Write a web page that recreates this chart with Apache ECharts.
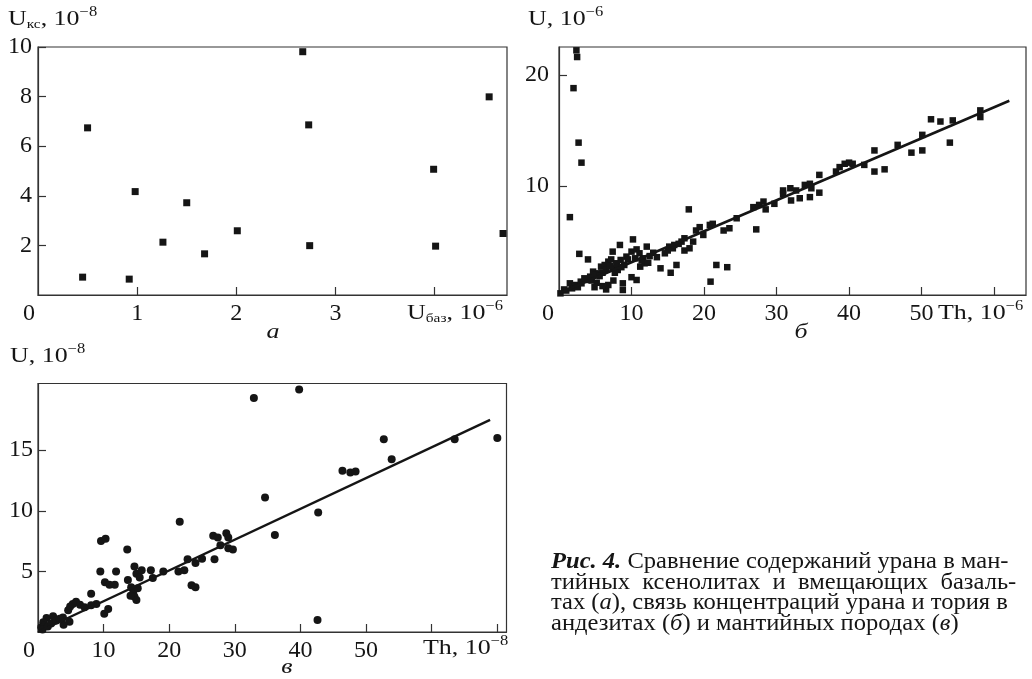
<!DOCTYPE html>
<html>
<head>
<meta charset="utf-8">
<script src="https://cdn.jsdelivr.net/npm/echarts@6/dist/echarts.min.js"></script>
<style>
  html, body { margin: 0; padding: 0; background: #fff; }
  #chart { width: 1032px; height: 679px; }
</style>
</head>
<body>
<div id="chart"></div>
<script>
// panel а: U in basalts (x, 10^-6) vs U in xenoliths (y, 10^-8)
const aUbaz = [0.45, 0.50, 0.92, 0.98, 1.26, 1.50, 1.68, 2.01, 2.67, 2.73, 2.74, 3.99, 4.01, 4.55, 4.69]
const aUks = [0.72, 6.74, 0.64, 4.17, 2.13, 3.72, 1.66, 2.59, 9.81, 6.86, 1.99, 5.07, 1.97, 7.99, 2.48]

// panel б: Th vs U in andesites, 10^-6
const bTh = [
  2.4, 2.5, 2.0, 2.7, 3.1, 1.5, 2.8, 4.0, 17.9, 10.2, 8.4, 20.9, 21.7, 23.2, 14.0, 15.4, 16.2, 8.8, 8.8, 10.0,
  10.7, 6.5, 4.9, 0.7, 0.2, 1.5, 2.2, 3.1, 3.8, 4.3, 4.7, 5.5, 5.8, 6.3, 6.8, 7.2, 7.4, 7.9, 8.1, 8.5,
  7.4, 9.3, 10.0, 10.7, 11.1, 11.2, 11.8, 12.1, 11.6, 14.6, 15.2, 15.7, 15.9, 16.9, 17.3, 17.3, 18.0, 18.5, 18.9, 19.4,
  19.9, 20.8, 21.2, 22.7, 23.5, 24.5, 26.8, 27.2, 27.6, 28.2, 28.5, 29.7, 30.9, 30.9, 31.9, 32.0, 32.7, 33.2, 33.9, 34.6,
  34.6, 34.8, 35.9, 35.9, 38.2, 38.7, 39.4, 40.0, 40.5, 42.1, 43.5, 43.5, 44.9, 46.7, 48.6, 50.1, 50.1, 51.3, 52.6, 53.9,
  54.3, 58.1, 58.1, 3.0, 4.5, 5.0, 6.0, 6.5, 7.0, 8.0, 9.0, 9.5, 10.5, 12.5, 13.0, 6.8, 7.5, 1.0, 1.8, 2.6,
  5.2, 6.0, 12.3, 15.0, 16.5, 3.5, 5.6, 7.7, 8.6, 11.4, 13.5
]
const bU = [
  22.2, 21.6, 18.8, 13.9, 12.1, 7.2, 3.9, 3.4, 7.9, 5.2, 4.7, 1.4, 2.9, 2.7, 2.6, 2.2, 2.9, 1.25, 0.65, 1.8,
  1.55, 0.7, 0.9, 0.7, 0.35, 1.25, 1.1, 1.25, 1.55, 1.85, 2.3, 2.15, 2.75, 2.9, 3.2, 3.4, 2.6, 3.05, 2.45, 3.35,
  4.1, 3.65, 4.1, 4.3, 3.95, 2.75, 3.05, 4.55, 3.5, 3.95, 4.55, 4.4, 4.7, 5.0, 5.3, 4.2, 4.4, 5.0, 6.0, 6.3,
  5.6, 6.5, 6.6, 6.0, 6.2, 7.1, 8.1, 6.1, 8.3, 8.6, 7.9, 8.4, 9.6, 9.3, 9.8, 8.7, 9.6, 8.9, 10.1, 10.2,
  9.0, 9.8, 11.0, 9.4, 11.3, 11.7, 12.0, 12.1, 12.0, 11.9, 13.2, 11.3, 11.5, 13.7, 13.0, 14.6, 13.2, 16.0, 15.8, 13.9,
  15.9, 16.8, 16.2, 1.4, 1.5, 2.0, 2.2, 2.5, 2.8, 3.0, 2.9, 3.4, 3.5, 3.7, 4.0, 1.1, 1.5, 0.6, 0.8, 0.9,
  1.3, 1.0, 3.1, 4.2, 4.8, 1.7, 1.9, 2.2, 2.7, 3.3, 3.6
]
const bFitTh = [0, 62.1]
const bFitU = [0.36, 17.67]

// panel в: Th vs U in mantle rocks, 10^-8
const vTh = [
  39.8, 32.9, 21.6, 9.6, 10.3, 13.6, 9.5, 11.9, 10.2, 10.9, 11.7, 13.7, 14.2, 14.5, 14.7, 15.0, 14.7, 15.0, 15.5, 15.8,
  15.2, 14.1, 17.2, 17.5, 19.1, 21.4, 22.3, 22.8, 23.4, 24.0, 24.0, 25.0, 26.7, 27.4, 26.9, 27.8, 28.7, 29.0, 29.0, 29.7,
  10.1, 10.7, 8.1, 8.9, 8.1, 6.4, 7.1, 4.9, 4.6, 3.8, 4.8, 3.9, 2.3, 1.3, 0.8, 0.5, 1.0, 0.7, 1.5, 2.0,
  2.8, 3.3, 34.6, 36.1, 42.7, 42.6, 46.4, 47.6, 48.4, 52.7, 53.9, 63.5, 70.0, 5.8, 5.3
]
const vU = [
  20.0, 19.3, 9.1, 7.5, 7.7, 6.8, 5.0, 5.0, 4.1, 3.9, 3.9, 4.3, 3.7, 3.2, 2.9, 2.65, 5.4, 4.8, 4.5, 5.1,
  3.6, 3.0, 5.1, 4.45, 5.0, 5.0, 5.1, 6.0, 3.85, 3.7, 5.7, 6.05, 7.95, 7.8, 6.0, 7.15, 8.15, 7.8, 6.9, 6.8,
  1.5, 1.9, 3.15, 2.3, 2.2, 2.25, 2.05, 2.1, 1.8, 1.2, 0.85, 0.6, 1.3, 1.15, 0.8, 0.4, 0.55, 0.2, 0.45, 0.7,
  0.95, 1.1, 11.1, 8.0, 9.85, 1.0, 13.3, 13.15, 13.25, 15.9, 14.25, 15.9, 16.0, 2.5, 2.3
]
const vFitTh = [0, 68.9]
const vFitU = [0, 17.5]

const pairs = (xs, ys) => xs.map((x, i) => [x, ys[i]])

const FONT = 'Liberation Serif'
const INK = '#151515'
const labelStyle = { fontFamily: FONT, fontSize: 24, color: INK }

function xAxisCfg(gridIndex, min, max, ticks, labels, zeroPad) {
  return {
    type: 'value', gridIndex: gridIndex, min: min, max: max,
    splitLine: { show: false },
    axisLine: { show: true, onZero: false, lineStyle: { color: '#333', width: 1.2 } },
    axisTick: { show: true, inside: true, length: 8, customValues: ticks, lineStyle: { color: '#333', width: 1.2 } },
    axisLabel: Object.assign({}, labelStyle, {
      margin: 7, customValues: labels,
      formatter: v => (v === 0 ? '{z|0}' : String(v)),
      rich: { z: { fontFamily: FONT, fontSize: 24, color: INK, padding: [0, zeroPad, 0, 0] } }
    })
  }
}

function yAxisCfg(gridIndex, min, max, ticks, margin) {
  return {
    type: 'value', gridIndex: gridIndex, min: min, max: max,
    splitLine: { show: false },
    axisLine: { show: true, onZero: false, lineStyle: { color: '#333', width: 1.2 } },
    axisTick: { show: true, inside: true, length: 8, customValues: ticks, lineStyle: { color: '#333', width: 1.2 } },
    axisLabel: Object.assign({}, labelStyle, { margin: margin, customValues: ticks })
  }
}

function richFor(size) {
  return {
    n: { fontFamily: FONT, fontSize: size, fill: INK },
    s: { fontFamily: FONT, fontSize: 13, fill: INK, padding: [12, 0, 0, 0] },
    p: { fontFamily: FONT, fontSize: 14, fill: INK, padding: [0, 0, 14, 0] },
    b: { fontFamily: FONT, fontSize: size, fill: INK, fontStyle: 'italic', fontWeight: 'bold' },
    i: { fontFamily: FONT, fontSize: size, fill: INK, fontStyle: 'italic' }
  }
}

// text block; stretched horizontally like the scanned page
function txt(x, y, text, align, sx, size) {
  const fs = size || 22
  return {
    type: 'text', x: x, y: y, scaleX: sx || 1.18,
    style: { text: text, rich: richFor(fs), fontFamily: FONT, fontSize: fs, fill: INK, textAlign: align || 'left', textVerticalAlign: 'middle' }
  }
}

const captionLines = [
  '{b|Рис. 4.} Сравнение содержаний урана в ман-',
  'тийных  ксенолитах  и  вмещающих  базаль-',
  'тах ({i|а}), связь концентраций урана и тория в',
  'андезитах ({i|б}) и мантийных породах ({i|в})'
]

const chart = echarts.init(document.getElementById('chart'), null, { renderer: 'canvas' })

const option = {
  animation: false,
  backgroundColor: '#fff',
  grid: [
    { left: 38, top: 47, width: 469, height: 248, show: true, borderColor: '#333', borderWidth: 1.2 },
    { left: 559, top: 47, width: 467, height: 248, show: true, borderColor: '#333', borderWidth: 1.2 },
    { left: 38, top: 383.5, width: 468.5, height: 248.5, show: true, borderColor: '#333', borderWidth: 1.2 }
  ],
  xAxis: [
    xAxisCfg(0, 0, 4.73, [1, 2, 3, 4], [0, 1, 2, 3], 18),
    xAxisCfg(1, 0, 64.4, [10, 20, 30, 40, 50, 60], [0, 10, 20, 30, 40, 50], 22),
    xAxisCfg(2, 0, 71.4, [10, 20, 30, 40, 50, 60, 70], [0, 10, 20, 30, 40, 50], 18)
  ],
  yAxis: [
    yAxisCfg(0, 0, 10, [2, 4, 6, 8, 10], 6),
    yAxisCfg(1, 0.2, 22.5, [10, 20], 10),
    yAxisCfg(2, 0, 20.5, [5, 10, 15], 5)
  ],
  series: [
    {
      type: 'scatter', xAxisIndex: 0, yAxisIndex: 0, symbol: 'rect', symbolSize: 7,
      itemStyle: { color: INK, opacity: 1 }, data: pairs(aUbaz, aUks)
    },
    {
      type: 'scatter', xAxisIndex: 1, yAxisIndex: 1, symbol: 'rect', symbolSize: 6.5,
      itemStyle: { color: INK, opacity: 1 }, data: pairs(bTh, bU)
    },
    {
      type: 'line', xAxisIndex: 1, yAxisIndex: 1, symbol: 'none',
      lineStyle: { color: INK, width: 2.6 }, data: pairs(bFitTh, bFitU)
    },
    {
      type: 'scatter', xAxisIndex: 2, yAxisIndex: 2, symbol: 'circle', symbolSize: 8,
      itemStyle: { color: INK, opacity: 1 }, data: pairs(vTh, vU)
    },
    {
      type: 'line', xAxisIndex: 2, yAxisIndex: 2, symbol: 'none',
      lineStyle: { color: INK, width: 2.4 }, data: pairs(vFitTh, vFitU)
    }
  ],
  graphic: [
    // axis names
    txt(8, 19, '{n|U}{s|кс}{n|, 10}{p|−8}'),
    txt(503, 313, '{n|U}{s|баз}{n|, 10}{p|−6}', 'right'),
    txt(528, 19, '{n|U, 10}{p|−6}'),
    txt(938, 313, '{n|Th, 10}{p|−6}'),
    txt(10, 356, '{n|U, 10}{p|−8}'),
    txt(423, 648, '{n|Th, 10}{p|−8}'),
    // panel letters
    txt(273, 332, '{i|а}', 'center'),
    txt(801, 332, '{i|б}', 'center'),
    txt(287, 667, '{i|в}', 'center'),
    // caption
    txt(551, 562, captionLines[0], 'left', 1.045, 23.5),
    txt(551, 582.5, captionLines[1], 'left', 1.045, 23.5),
    txt(551, 603, captionLines[2], 'left', 1.045, 23.5),
    txt(551, 623.5, captionLines[3], 'left', 1.045, 23.5)
  ]
}

chart.setOption(option)
</script>
</body>
</html>
